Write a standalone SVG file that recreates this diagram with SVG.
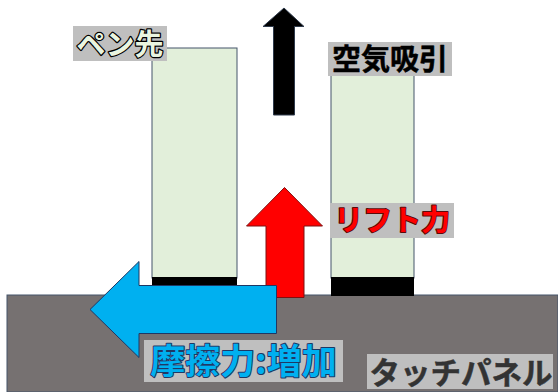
<svg xmlns="http://www.w3.org/2000/svg" width="558" height="392" viewBox="0 0 558 392">
<style>
.pen{fill:#E2EFDA;stroke:#44546A;stroke-width:1}
.tip{fill:#000}
.lbl{fill:#BFBFBF}
.t{font-family:"Noto Sans CJK JP","Noto Sans",sans-serif;font-weight:bold;font-size:29px;paint-order:stroke;stroke-linejoin:round}
</style>
<rect id="panel" x="7" y="295" width="551" height="97" fill="#767171" stroke="#44546A" stroke-width="1"/>
<g id="pen-left">
<rect class="pen" x="152" y="48" width="85" height="230"/>
<rect class="tip" x="152" y="277" width="85" height="10"/>
</g>
<g id="pen-right">
<rect class="pen" x="331" y="70" width="83" height="208"/>
<rect class="tip" x="331" y="277" width="83" height="19"/>
</g>
<g id="connectors">
<polygon id="suction-arrow" points="273.5,115 294.5,115 294.5,26.5 304,26.5 284,8 263,26.5 273.5,26.5" fill="#000" stroke="#2F3B4C" stroke-width="1"/>
<polygon id="lift-arrow" points="266,297.5 304,297.5 304,226 322.5,226 284.5,187.5 246.5,226 266,226" fill="#FF0000" stroke="#7F1010" stroke-width="1"/>
<polygon id="friction-arrow" points="276.5,285.5 276.5,333.5 139,333.5 139,357.5 90,309.5 139,261.5 139,285.5" fill="#00B0F0" stroke="#1F3864" stroke-width="1"/>
</g>
<g id="label-pen">
<rect class="lbl" x="73" y="26" width="94" height="35"/>
<text class="t" x="120" y="55" text-anchor="middle" fill="#EAF5E0" stroke="#000" stroke-width="2.5">ペン先</text>
</g>
<g id="label-suction">
<rect class="lbl" x="328" y="42" width="124" height="34"/>
<text class="t" x="390" y="70" text-anchor="middle" fill="#000" stroke="#000" stroke-width="0.5">空気吸引</text>
</g>
<g id="label-lift">
<rect class="lbl" x="330" y="203" width="124" height="35"/>
<text class="t" x="392" y="231" text-anchor="middle" fill="#FF0000" stroke="#5A0A0A" stroke-width="2">リフト力</text>
</g>
<g id="label-friction">
<rect class="lbl" x="144" y="340" width="199" height="42"/>
<text class="t" x="243.5" y="374" text-anchor="middle" fill="#00B0F0" stroke="#1F3864" stroke-width="2" style="font-size:35px">摩擦力:増加</text>
</g>
<g id="label-panel">
<rect class="lbl" x="367" y="354" width="186" height="35"/>
<text class="t" x="461" y="384" text-anchor="middle" fill="#333333" stroke="#333333" stroke-width="0.5" style="font-size:30.5px">タッチパネル</text>
</g>
</svg>
